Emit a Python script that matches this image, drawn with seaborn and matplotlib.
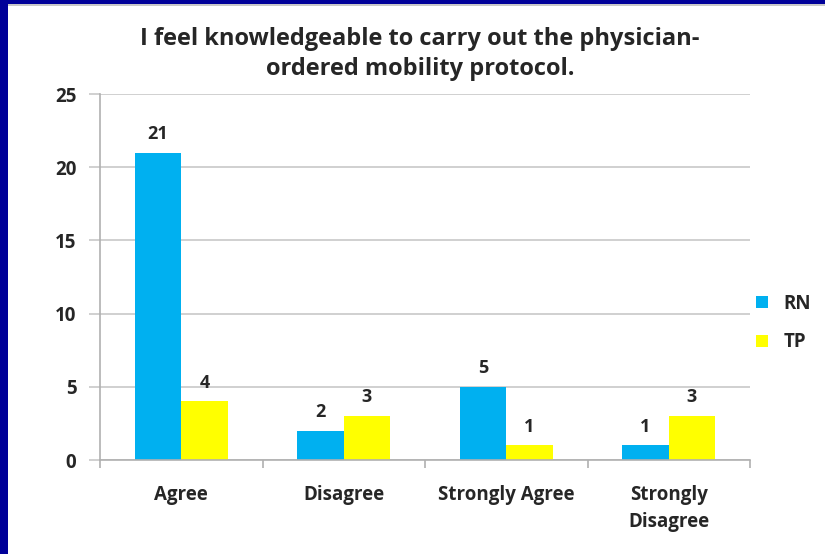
import matplotlib
matplotlib.use("Agg")
import matplotlib.pyplot as plt
import seaborn as sns
import pandas as pd
from matplotlib.patches import Rectangle

categories = ["Agree", "Disagree", "Strongly Agree", "Strongly\nDisagree"]
rn_values = [21, 2, 5, 1]
tp_values = [4, 3, 1, 3]
series_names = ["RN", "TP"]
y_ticks = [0, 5, 10, 15, 20, 25]
title_text = "I feel knowledgeable to carry out the physician-\nordered mobility protocol."

df = pd.DataFrame({
    "category": categories * 2,
    "value": rn_values + tp_values,
    "group": [series_names[0]] * len(categories) + [series_names[1]] * len(categories),
})

sns.set_theme(style="white")
plt.rcParams["font.family"] = ["Open Sans", "DejaVu Sans"]

W, H = 825, 554
fig = plt.figure(figsize=(W / 100, H / 100), dpi=100)
fig.patch.set_facecolor("white")

# navy frame along the top and left edges
fig.patches.append(Rectangle((0, 1 - 4 / H), 1, 4 / H, transform=fig.transFigure,
                             facecolor="#000099", edgecolor="none", zorder=0))
fig.patches.append(Rectangle((0, 1 - 6 / H), 1, 2 / H, transform=fig.transFigure,
                             facecolor="#c8c8c8", edgecolor="none", zorder=0))
fig.patches.append(Rectangle((0, 0), 8 / W, 1, transform=fig.transFigure,
                             facecolor="#000099", edgecolor="none", zorder=1))

ax = fig.add_axes([100 / W, 1 - 460 / H, 650 / W, 366 / H])
palette = {"RN": "#00B0F0", "TP": "#FFFF00"}
sns.barplot(data=df, x="category", y="value", hue="group", palette=palette,
            width=0.57, saturation=1, ax=ax, legend=True, edgecolor="none")

ax.set_ylim(0, 25)
ax.set_xlim(-0.5, len(categories) - 0.5)
ax.set_yticks(y_ticks)
ax.set_xlabel("")
ax.set_ylabel("")

text_color = "#262626"
label_size = 13.5

ax.yaxis.grid(True, color="#c8c8c8", linewidth=1.2)
ax.set_axisbelow(True)
for side in ["top", "right"]:
    ax.spines[side].set_visible(False)
for side in ["left", "bottom"]:
    ax.spines[side].set_color("#b0b0b0")
    ax.spines[side].set_linewidth(1.2)

ax.tick_params(axis="y", which="both", left=True, length=8, width=1.2, color="#c8c8c8",
               pad=9, labelsize=label_size, labelcolor=text_color)
for lbl in ax.get_yticklabels():
    lbl.set_fontweight("bold")

# category boundary ticks below the x axis
ax.set_xticks(range(len(categories)))
ax.set_xticklabels(categories, fontsize=label_size, fontweight="bold", color=text_color,
                   linespacing=1.45)
ax.tick_params(axis="x", which="major", length=0, pad=18)
ax.set_xticks([i - 0.5 for i in range(len(categories) + 1)], minor=True)
ax.tick_params(axis="x", which="minor", bottom=True, length=6, width=1.2, color="#b0b0b0")

for container in ax.containers:
    ax.bar_label(container, fmt="%d", padding=7, fontsize=13, fontweight="bold",
                 color=text_color)

ax.legend(loc="center left", bbox_to_anchor=(739 / W, 1 - 323 / H),
          bbox_transform=fig.transFigure, frameon=False,
          prop={"weight": "bold", "size": label_size}, handlelength=0.64,
          handleheight=0.64, labelspacing=1.0, handletextpad=0.85,
          labelcolor=text_color)

fig.text(420 / W, 1 - 54 / H, title_text, ha="center", va="center",
         fontsize=17, fontweight="bold", color=text_color, linespacing=1.3)

fig.savefig("out.png", dpi=100)
